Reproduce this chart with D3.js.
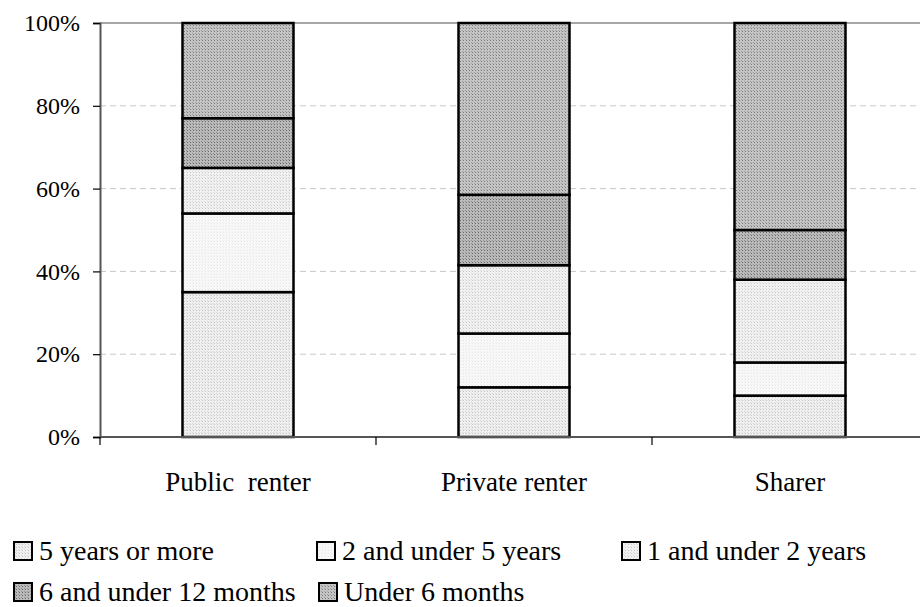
<!DOCTYPE html>
<html><head><meta charset="utf-8">
<script src="https://cdn.jsdelivr.net/npm/d3@7/dist/d3.min.js"></script>
<style>body{margin:0;background:#fff}svg{display:block}</style>
</head><body><svg id="c" width="920" height="607"></svg>
<script>
const categories = ["Public  renter", "Private renter", "Sharer"];
const seriesNames = ["5 years or more", "2 and under 5 years", "1 and under 2 years", "6 and under 12 months", "Under 6 months"];
const fiveYearsOrMore = [35, 12, 10];
const twoToFiveYears = [19, 13, 8];
const oneToTwoYears = [11, 16.5, 20];
const sixToTwelveMonths = [12, 17, 12];
const underSixMonths = [23, 41.5, 50];
const yTicks = [0, 20, 40, 60, 80, 100];

const FONT = "Liberation Serif";
const seriesValues = [fiveYearsOrMore, twoToFiveYears, oneToTwoYears, sixToTwelveMonths, underSixMonths];
const svg = d3.select("#c");
const defs = svg.append("defs");
const pats = [
  {id:"p0", bg:"#efefef", dot:"#c4c4c4"},
  {id:"p1", bg:"#f8f8f8", dot:"#e6e6e6"},
  {id:"p2", bg:"#f1f1f1", dot:"#c8c8c8"},
  {id:"p3", bg:"#bababa", dot:"#6a6a6a"},
  {id:"p4", bg:"#c4c4c4", dot:"#7c7c7c"}
];
pats.forEach(p => {
  const pt = defs.append("pattern").attr("id", p.id).attr("width", 3).attr("height", 3).attr("patternUnits", "userSpaceOnUse");
  pt.append("rect").attr("width", 3).attr("height", 3).attr("fill", p.bg);
  pt.append("rect").attr("x", 1).attr("y", 1).attr("width", 1).attr("height", 1).attr("fill", p.dot);
  pt.append("rect").attr("x", 0).attr("y", 0).attr("width", 1).attr("height", 1).attr("fill", p.dot).attr("opacity", 0.5);
});

const mLeft = 100, mRight = 928, mTop = 23, mBottom = 437;
const xb = d3.scaleBand().domain(categories).range([mLeft, mRight]);
const y = d3.scaleLinear().domain([0, 100]).range([mBottom, mTop]);

svg.append("g").selectAll("line").data(yTicks.filter(t => t > 0 && t < 100)).join("line")
  .attr("x1", mLeft).attr("x2", 920).attr("y1", d => y(d)).attr("y2", d => y(d))
  .attr("stroke", "#c8c8c8").attr("stroke-width", 1).attr("stroke-dasharray", "6,4");
svg.append("line").attr("x1", mLeft).attr("x2", 920).attr("y1", y(100)).attr("y2", y(100))
  .attr("stroke", "#888").attr("stroke-width", 1.5);

const table = categories.map((c, i) => {
  const o = {cat: c};
  seriesNames.forEach((s, k) => o[s] = seriesValues[k][i]);
  return o;
});
const stack = d3.stack().keys(seriesNames)(table);
const bw = 111;
stack.forEach((layer, k) => {
  svg.append("g").selectAll("rect").data(layer).join("rect")
    .attr("x", d => xb(d.data.cat) + xb.bandwidth() / 2 - bw / 2)
    .attr("width", bw)
    .attr("y", d => y(d[1]))
    .attr("height", d => y(d[0]) - y(d[1]))
    .attr("fill", `url(#p${k})`)
    .attr("stroke", "#000").attr("stroke-width", 2.5);
});

const ya = svg.append("g").attr("transform", `translate(${mLeft},0)`)
  .call(d3.axisLeft(y).tickValues(yTicks).tickFormat(d => d + "%").tickSize(7).tickPadding(13));
ya.attr("font-family", FONT).attr("font-size", 24);
ya.select(".domain").attr("stroke", "#555").attr("stroke-width", 2);
ya.selectAll(".tick line").attr("stroke", "#000").attr("stroke-width", 1.2);
ya.selectAll(".tick text").attr("fill", "#000");

const xa = svg.append("g").attr("transform", `translate(0,${mBottom})`);
xa.append("line").attr("x1", mLeft).attr("x2", 920).attr("stroke", "#555").attr("stroke-width", 2);
const bounds = categories.map(c => xb(c)).concat([xb(categories[categories.length-1]) + xb.bandwidth()]);
xa.selectAll("line.t").data(bounds).join("line").attr("class", "t")
  .attr("x1", d => d).attr("x2", d => d).attr("y1", 0).attr("y2", 8)
  .attr("stroke", "#000").attr("stroke-width", 1.2);
xa.selectAll("text").data(categories).join("text")
  .attr("x", d => xb(d) + xb.bandwidth() / 2).attr("y", 54)
  .attr("text-anchor", "middle").attr("font-family", FONT).attr("font-size", 27)
  .style("white-space", "pre")
  .text(d => d);

const legPos = [[14, 560], [317, 560], [622, 560], [14, 601], [319, 601]];
const lg = svg.append("g");
seriesNames.forEach((s, k) => {
  const [lx, ly] = legPos[k];
  lg.append("rect").attr("x", lx).attr("y", ly - 18).attr("width", 18).attr("height", 18)
    .attr("fill", `url(#p${k})`).attr("stroke", "#000").attr("stroke-width", 2);
  lg.append("text").attr("x", lx + 25).attr("y", ly).attr("font-family", FONT).attr("font-size", 28).text(s);
});
</script></body></html>
